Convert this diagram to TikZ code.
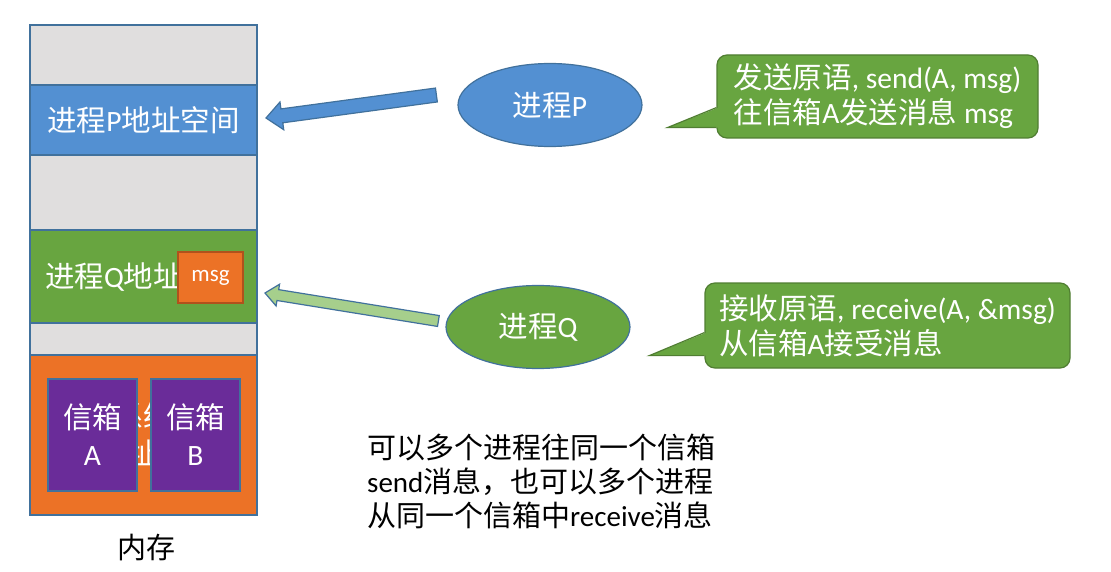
\documentclass[tikz,border=0pt]{standalone}
\usepackage{fontspec}
\setmainfont{Carlito}
\newfontfamily\cjk{Noto Sans CJK SC}
\newcommand\zh[1]{{\cjk #1}}
\usepackage{tikz}
\usetikzlibrary{positioning,calc,shapes.geometric}

\definecolor{memgray}{HTML}{E0DEDE}
\definecolor{edgeblue}{HTML}{41719C}
\definecolor{pblue}{HTML}{5390D2}
\definecolor{qgreen}{HTML}{68A540}
\definecolor{edgegreen}{HTML}{507E32}
\definecolor{korange}{HTML}{EC7226}
\definecolor{msgedge}{HTML}{B0521C}
\definecolor{boxpurple}{HTML}{6A2C99}
\definecolor{arrowgreen}{HTML}{A6CF8C}

% block arrow: tail, tip, half shaft, half head, head length, style
\newcommand\blockarrow[6]{%
  \coordinate (hb) at ($(#2)!#5!(#1)$);
  \draw[#6, line join=miter] ($(#1)!#3!90:(#2)$) -- ($(hb)!#3!90:(#2)$) -- ($(hb)!#4!90:(#2)$)
    -- (#2) -- ($(hb)!#4!-90:(#2)$) -- ($(hb)!#3!-90:(#2)$) -- ($(#1)!#3!-90:(#2)$) -- cycle;}

\begin{document}
\begin{tikzpicture}[
  x=1pt, y=-1pt, font={\fontsize{29.5}{37}\selectfont},
  seg/.style={draw=edgeblue, line width=1.2pt, minimum width=227pt, inner sep=0pt, outer sep=0pt, text=white},
  mailbox/.style={draw=edgeblue, line width=1.2pt, fill=boxpurple, minimum width=89pt, minimum height=112pt, align=center, inner sep=0pt, text=white},
  proc/.style={ellipse, draw=edgeblue, line width=1.2pt, minimum width=184pt, minimum height=83pt, text=white},
  note/.style={draw=edgegreen, line width=1.2pt, fill=qgreen, rounded corners=10pt, align=left, text=white, font={\fontsize{29.5}{35}\selectfont}}
]
  \path[fill=white] (0,0) rectangle (1111,572);
  \useasboundingbox (0,0) rectangle (1111,572);

  % memory column
  \node[seg, fill=memgray, minimum height=60pt, anchor=north west] (free1) at (30,25) {};
  \node[seg, fill=pblue, minimum height=70pt, below=0pt of free1] (pspace) {\zh{进程}P\zh{地址空间}};
  \node[seg, fill=memgray, minimum height=75pt, below=0pt of pspace] (free2) {};
  \node[seg, fill=qgreen, minimum height=93pt, below=0pt of free2] (qspace) {\zh{进程}Q\zh{地址空间}};
  \node[seg, fill=memgray, minimum height=32pt, below=0pt of qspace] (free3) {};
  \node[seg, fill=korange, minimum height=160pt, below=0pt of free3, align=center] (kernel) {\zh{操作系统内核}\\\zh{的地址空间}};

  \node[mailbox] (boxA) at (92.5,435) {\zh{信箱}\\A};
  \node[mailbox] (boxB) at (195.5,435) {\zh{信箱}\\B};
  \node[draw=msgedge, fill=korange, line width=1.2pt, minimum width=65pt, minimum height=51pt, inner sep=0pt, text=white, font={\fontsize{23}{26}\selectfont}] (msgbox) at (210.5,277.5) {msg};

  \node[font={\cjk\fontsize{29}{34}\selectfont}] (memlabel) at (146,548) {内存};

  % processes
  \node[proc, fill=pblue] (procP) at (550,105) {\zh{进程}P};
  \node[proc, fill=qgreen] (procQ) at (538,327) {\zh{进程}Q};

  \coordinate (ptail) at ($(procP.west)+(-21,-10)$);
  \coordinate (ptip) at ($(pspace.east)+(9,-2)$);
  \blockarrow{ptail}{ptip}{7pt}{14pt}{16pt}{draw=edgeblue, line width=1.2pt, fill=pblue}
  \coordinate (qtail) at ($(procQ.west)+(-7,-6)$);
  \coordinate (qtip) at ($(qspace.east)+(8,16.5)$);
  \blockarrow{qtail}{qtip}{5.5pt}{11pt}{13pt}{draw=edgeblue, line width=1.2pt, fill=arrowgreen}

  % callouts
  \node[note, minimum width=321pt, minimum height=83pt] (sendnote) at (877.5,96.5) {\zh{发送原语}, send(A, msg)\\\zh{往信箱}A\zh{发送消息} msg};
  \node[note, minimum width=365pt, minimum height=85pt] (recvnote) at (887.5,325.5) {\zh{接收原语}, receive(A, \&msg)\\\zh{从信箱}A\zh{接受消息}};

  \coordinate (sendtip) at ($(sendnote.south west)+(-49,-11)$);
  \fill[qgreen] ($(sendnote.south west)+(2,-31)$) -- (sendtip) -- ($(sendnote.south west)+(2,-11)$) -- cycle;
  \draw[edgegreen, line width=1.2pt, line join=miter] ($(sendnote.south west)+(0,-31)$) -- (sendtip) -- ($(sendnote.south west)+(0,-11)$);
  \coordinate (recvtip) at ($(recvnote.south west)+(-55,-13)$);
  \fill[qgreen] ($(recvnote.south west)+(2,-36)$) -- (recvtip) -- ($(recvnote.south west)+(2,-13)$) -- cycle;
  \draw[edgegreen, line width=1.2pt, line join=miter] ($(recvnote.south west)+(0,-36)$) -- (recvtip) -- ($(recvnote.south west)+(0,-13)$);

  \node[align=left, anchor=west, inner sep=0pt, font={\fontsize{29}{34}\selectfont}] (summary) at (367,481)
    {\zh{可以多个进程往同一个信箱}\\send\zh{消息，也可以多个进程}\\\zh{从同一个信箱中}receive\zh{消息}};
\end{tikzpicture}
\end{document}
